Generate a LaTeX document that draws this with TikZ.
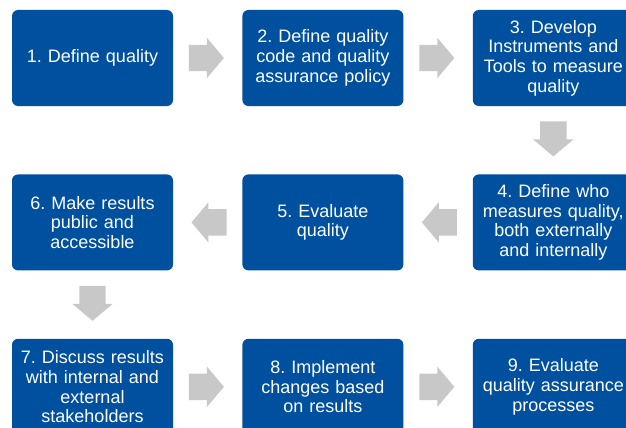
\documentclass[tikz,border=0pt]{standalone}
\usepackage{fontspec}
\setmainfont{Liberation Sans}
\usetikzlibrary{positioning,shapes.arrows,calc}
\definecolor{stepblue}{RGB}{0,80,160}
\definecolor{arrowgray}{RGB}{200,200,200}
\frenchspacing

\begin{document}
\begin{tikzpicture}[x=1pt,y=-1pt,
    stepbox/.style={fill=stepblue,rounded corners=6pt,minimum width=161pt,
        minimum height=96pt,text width=158pt,align=center,inner sep=0pt,
        text=white,font=\fontsize{18}{19.7}\selectfont},
    blockarrow/.style={single arrow,fill=arrowgray,minimum height=35pt,
        minimum width=40pt,single arrow head extend=7pt,anchor=tail,
        single arrow tip angle=100,inner xsep=0pt,inner ysep=13pt}]
    \useasboundingbox (0,0) rectangle (626,428);
    \clip (0,0) rectangle (626,428);
    %% Steps
    \node[stepbox] (b1) at (92.5,58) {1. Define quality};
    \node[stepbox,right=69pt of b1] (b2) {2. Define quality\\code and quality\\assurance policy};
    \node[stepbox,right=69pt of b2] (b3) {3. Develop\\Instruments and\\Tools to measure\\quality};
    \node[stepbox,below=68pt of b3] (b4) {4. Define who\\measures quality,\\both externally\\and internally};
    \node[stepbox,left=69pt of b4] (b5) {5. Evaluate\\quality};
    \node[stepbox,left=69pt of b5] (b6) {6. Make results\\public and\\accessible};
    \node[stepbox,below=68pt of b6] (b7) {7. Discuss results\\with internal and\\external\\stakeholders};
    \node[stepbox,right=69pt of b7] (b8) {8. Implement\\changes based\\on results};
    \node[stepbox,right=69pt of b8] (b9) {9. Evaluate\\quality assurance\\processes};
    %% Arrows
    \node[blockarrow] (a12) at ([xshift=15.5pt]b1.east) {};
    \node[blockarrow] (a23) at ([xshift=15.5pt]b2.east) {};
    \node[blockarrow,rotate=-90] (a34) at ([yshift=-15pt]b3.south) {};
    \node[blockarrow,rotate=180] (a45) at ([xshift=-15.5pt]b4.west) {};
    \node[blockarrow,rotate=180] (a56) at ([xshift=-15.5pt]b5.west) {};
    \node[blockarrow,rotate=-90] (a67) at ([yshift=-15pt]b6.south) {};
    \node[blockarrow] (a78) at ([xshift=15.5pt]b7.east) {};
    \node[blockarrow] (a89) at ([xshift=15.5pt]b8.east) {};
\end{tikzpicture}
\end{document}
